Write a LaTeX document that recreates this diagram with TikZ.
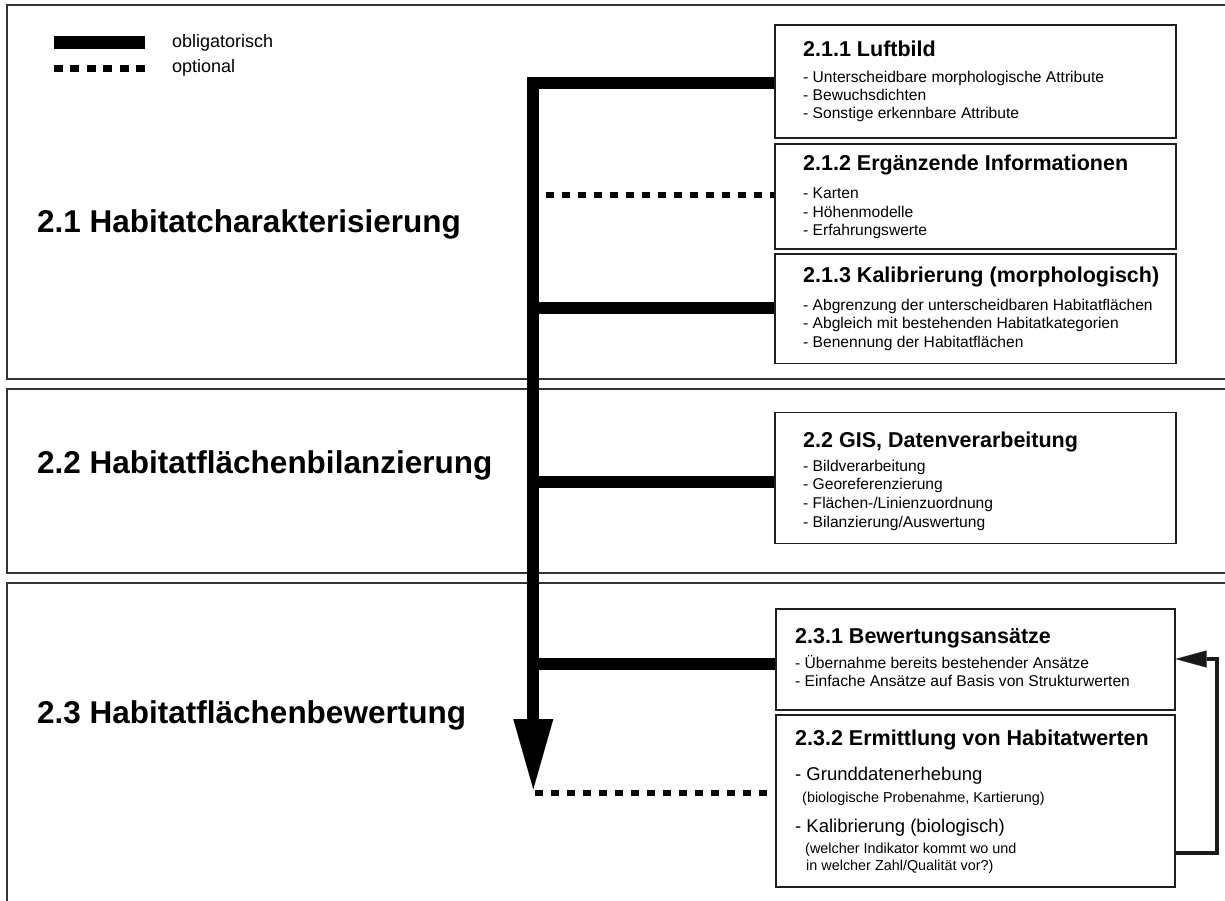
\documentclass[tikz,border=0pt]{standalone}
\usepackage{fontspec}
\setmainfont{Liberation Sans}
\usetikzlibrary{arrows.meta}
\begin{document}
\begin{tikzpicture}[x=1pt,y=-1pt,
  panel/.style={draw=black!80, line width=1.6pt},
  box/.style={draw=black!88, line width=1.6pt, rectangle, inner sep=0pt, anchor=north west},
  sect/.style={anchor=base west, inner sep=0pt, font=\fontsize{31.5}{36}\selectfont\bfseries},
  ttl/.style={anchor=base west, inner sep=0pt, font=\fontsize{21.5}{25}\selectfont\bfseries},
  itm/.style={anchor=base west, inner sep=0pt, font=\fontsize{15.6}{18}\selectfont},
  bigitm/.style={anchor=base west, inner sep=0pt, font=\fontsize{18.5}{22}\selectfont},
  smallitm/.style={anchor=base west, inner sep=0pt, font=\fontsize{14.4}{17}\selectfont},
  legtxt/.style={anchor=base west, inner sep=0pt, font=\fontsize{18}{20}\selectfont},
  solidc/.style={line width=12pt, line join=miter},
  dotc/.style={line width=6.5pt, dash pattern=on 8pt off 8pt},
  fb/.style={line width=4pt, line join=miter, draw=black!90}
]
\useasboundingbox (0,0) rectangle (1225,901);
\clip (0,0) rectangle (1225,901);

% panels
\draw[panel] (7,5) rectangle (1240,379);
\draw[panel] (7,389) rectangle (1240,573);
\draw[panel] (7,583) rectangle (1240,920);

% legend
\draw[line width=13pt] (54,42.7) -- (145,42.7);
\draw[line width=6.7pt, dash pattern=on 9pt off 7.4pt] (54,68.3) -- (145,68.3);
\node[legtxt] (lg1) at (172,48) {obligatorisch};
\node[legtxt] (lg2) at (172,73) {optional};

% section titles
\node[sect] (s1) at (37,233) {2.1 Habitatcharakterisierung};
\node[sect] (s2) at (37,473) {2.2 Habitatflächenbilanzierung};
\node[sect] (s3) at (37,723) {2.3 Habitatflächenbewertung};

% boxes
\node[box, minimum width=401pt, minimum height=113pt] (b1) at (774,24) {};
\node[box, minimum width=401pt, minimum height=105pt] (b2) at (774,143.5) {};
\node[box, minimum width=401pt, minimum height=109pt] (b3) at (774,253.5) {};
\node[box, minimum width=401pt, minimum height=131pt] (b22) at (774,411.5) {};
\node[box, minimum width=399pt, minimum height=101pt] (b31) at (775,608) {};
\node[box, minimum width=399pt, minimum height=172pt] (b32) at (775,714) {};

% box texts
\node[ttl] (t1) at (803,57) {2.1.1 Luftbild};
\node[itm] (t1a) at (803,83) {- Unterscheidbare morphologische Attribute};
\node[itm] (t1b) at (803,101) {- Bewuchsdichten};
\node[itm] (t1c) at (803,119) {- Sonstige erkennbare Attribute};

\node[ttl] (t2) at (803,171) {2.1.2 Ergänzende Informationen};
\node[itm] (t2a) at (803,199) {- Karten};
\node[itm] (t2b) at (803,217.5) {- Höhenmodelle};
\node[itm] (t2c) at (803,236) {- Erfahrungswerte};

\node[ttl] (t3) at (803,282) {2.1.3 Kalibrierung (morphologisch)};
\node[itm] (t3a) at (803,310) {- Abgrenzung der unterscheidbaren Habitatflächen};
\node[itm] (t3b) at (803,328.5) {- Abgleich mit bestehenden Habitatkategorien};
\node[itm] (t3c) at (803,347) {- Benennung der Habitatflächen};

\node[ttl] (t4) at (803,447) {2.2 GIS, Datenverarbeitung};
\node[itm] (t4a) at (803,471) {- Bildverarbeitung};
\node[itm] (t4b) at (803,489.5) {- Georeferenzierung};
\node[itm] (t4c) at (803,508) {- Flächen-/Linienzuordnung};
\node[itm] (t4d) at (803,527) {- Bilanzierung/Auswertung};

\node[ttl] (t5) at (795,643) {2.3.1 Bewertungsansätze};
\node[itm] (t5a) at (795,668) {- Übernahme bereits bestehender Ansätze};
\node[itm] (t5b) at (795,686) {- Einfache Ansätze auf Basis von Strukturwerten};

\node[ttl] (t6) at (795,745) {2.3.2 Ermittlung von Habitatwerten};
\node[bigitm] (t6a) at (795,780) {- Grunddatenerhebung};
\node[smallitm] (t6b) at (802,802) {(biologische Probenahme, Kartierung)};
\node[bigitm] (t6c) at (795,832) {- Kalibrierung (biologisch)};
\node[smallitm] (t6d) at (805,853) {(welcher Indikator kommt wo und};
\node[smallitm] (t6e) at (806,870) {in welcher Zahl/Qualität vor?)};

% trunk and branches
\coordinate (j1) at (533.3,83);
\coordinate (tip) at (533.3,789);
\draw[solidc, -{Triangle[length=70pt,width=40pt,line width=0.01pt]}] (j1 -| b1.west) -- (j1) -- (tip);
\coordinate (j2) at (546,195);
\draw[dotc] (j2) -- (j2 -| b2.west);
\coordinate (j3) at (533.3,308);
\draw[solidc] (j3) -- (j3 -| b3.west);
\coordinate (j4) at (533.3,482);
\draw[solidc] (j4) -- (j4 -| b22.west);
\coordinate (j5) at (533.3,664);
\draw[solidc] (j5) -- (j5 -| b31.west);
\coordinate (j6) at (535,793);
\draw[dotc] (j6) -- (j6 -| b32.west);

% feedback arrow
\coordinate (f1) at (1217,853);
\coordinate (f2) at (1217,659);
\draw[fb, -{Triangle[length=31pt,width=17pt,line width=0.01pt]}] (f1 -| b32.east) -- (f1) -- (f2) -- (f2 -| b31.east);
\end{tikzpicture}
\end{document}
